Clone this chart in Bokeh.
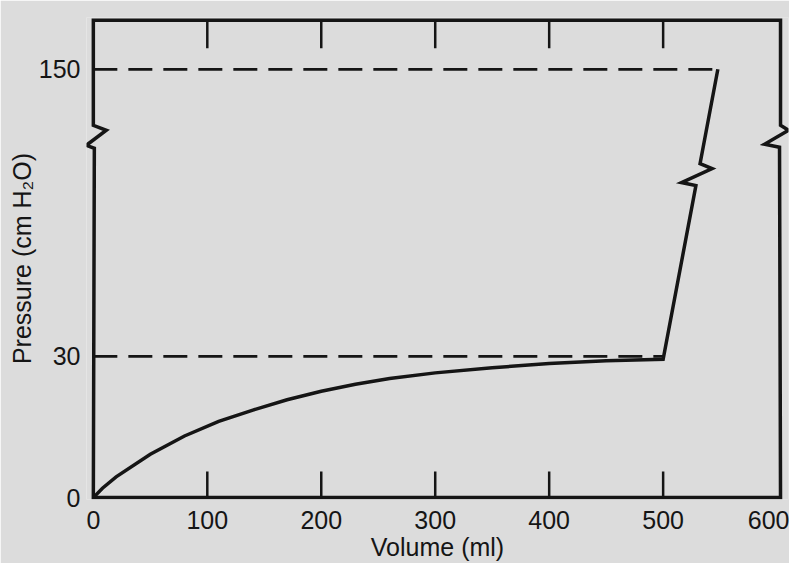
from bokeh.plotting import figure
from bokeh.models import Range1d, FixedTicker
from bokeh.embed import file_html
from bokeh.resources import INLINE

# ---------------- data ----------------
volume = [0, 8, 20, 50, 80, 110, 140, 170, 200, 230, 260, 300, 350, 400, 450, 500]
pressure = [0, 2.0, 4.4, 9.2, 13.1, 16.2, 18.6, 20.8, 22.6, 24.1, 25.3, 26.5, 27.6, 28.5, 29.1, 29.4]
rise_volume = [500, 548]
rise_pressure = [29.4, 150]
ref_pressure = [30, 150]
ref_volume_end = [500, 548]
x_ticks = [0, 100, 200, 300, 400, 500, 600]
y_ticks = [0, 30, 150]
y_tick_labels = ["0", "30", "150"]
x_title = "Volume (ml)"
y_title = "Pressure (cm H\u2082O)"

# ---------------- broken pressure axis ----------------
BREAK_P = 30.0          # linear scale up to here
UPPER_K = 61.0 / 120.0  # compression of the scale above the break

def disp(p):
    v = p if p <= BREAK_P else BREAK_P + (p - BREAK_P) * UPPER_K
    return round(v, 6)

# ---------------- layout ----------------
X0, X1 = -6, 610
Y0, Y1 = -0.4, 102
FW, FH = 702, 482
PX_X = FW / (X1 - X0)
PX_Y = FH / (Y1 - Y0)
FRAME_RIGHT = 603
FRAME_TOP = 101.4
AXIS_BREAK_P = 122
RISE_BREAK_P = 106
INK = "#151515"
BG = "#dcdcdc"
FONT = "Liberation Sans"

p = figure(frame_width=FW, frame_height=FH,
           min_border_left=86, min_border_right=1, min_border_top=17, min_border_bottom=63,
           x_range=Range1d(X0, X1), y_range=Range1d(Y0, Y1),
           output_backend="svg", toolbar_location=None)
p.background_fill_color = BG
p.border_fill_color = BG
p.outline_line_color = None
p.grid.visible = False

y_pos = [disp(v) for v in y_ticks]
p.xaxis.ticker = FixedTicker(ticks=x_ticks)
p.yaxis.ticker = FixedTicker(ticks=y_pos)
p.yaxis.major_label_overrides = {t: lab for t, lab in zip(y_pos, y_tick_labels)}
for ax in (p.xaxis[0], p.yaxis[0]):
    ax.axis_line_color = None
    ax.major_tick_line_color = None
    ax.minor_tick_line_color = None
    ax.major_label_text_font = FONT
    ax.major_label_text_font_size = "25px"
    ax.major_label_text_color = INK
    ax.axis_label_text_font = FONT
    ax.axis_label_text_font_size = "25px"
    ax.axis_label_text_font_style = "normal"
    ax.axis_label_text_color = INK
p.xaxis.axis_label = x_title
p.yaxis.axis_label = y_title
p.xaxis.major_label_standoff = 5
p.xaxis.axis_label_standoff = 1
p.yaxis.major_label_standoff = 0
p.yaxis.axis_label_standoff = 0

# zig-zag break symbols, pixel offsets (dx right, dy up), listed top to bottom
ZIG = [(0, 11), (13, 6), (-15, -8), (0, -11)]
ZIG_LEFT = [(0, 11), (13, 6), (-7, -9), (1, -12)]
ZIG_RIGHT = [(0, 11), (8, 6), (-16, -8), (-1, -11)]

def zig(cx, cy, shape, slope=0.0):
    pts = []
    for dx, dy in shape:
        yy = cy + dy / PX_Y
        pts.append((cx + slope * (yy - cy) + dx / PX_X, yy))
    return pts

# frame with breaks on both vertical sides
yb = disp(AXIS_BREAK_P)
left = zig(0, yb, ZIG_LEFT)
right = list(reversed(zig(FRAME_RIGHT, yb, ZIG_RIGHT)))
fx = [0] + [q[0] for q in left] + [0, FRAME_RIGHT] + [q[0] for q in right] + [FRAME_RIGHT]
fy = [FRAME_TOP] + [q[1] for q in left] + [0, 0] + [q[1] for q in right] + [FRAME_TOP]
p.patch(fx, fy, fill_color=None, line_color=INK, line_width=3.5, line_join="miter")

# ticks (inside)
inner = x_ticks[1:-1]
p.segment(x0=inner, y0=[0] * len(inner), x1=inner, y1=[26 / PX_Y] * len(inner),
          line_color=INK, line_width=2.5)
p.segment(x0=inner, y0=[FRAME_TOP] * len(inner), x1=inner, y1=[FRAME_TOP - 28 / PX_Y] * len(inner),
          line_color=INK, line_width=2.5)

# dashed reference levels
p.segment(x0=[0] * len(ref_pressure), y0=[disp(v) for v in ref_pressure],
          x1=ref_volume_end, y1=[disp(v) for v in ref_pressure],
          line_color=INK, line_width=2.8, line_dash="24 11")

# compliance curve + steep rise with break
ry0, ry1 = disp(rise_pressure[0]), disp(rise_pressure[1])
slope = (rise_volume[1] - rise_volume[0]) / (ry1 - ry0)
cy = disp(RISE_BREAK_P)
cx = rise_volume[0] + slope * (cy - ry0)
rz = list(reversed(zig(cx, cy, ZIG, slope)))
cxs = volume + [q[0] for q in rz] + [rise_volume[1]]
cys = [disp(v) for v in pressure] + [q[1] for q in rz] + [ry1]
p.line(cxs, cys, line_color=INK, line_width=3.5, line_join="miter")

open("out.html", "w").write(file_html(p, INLINE))
